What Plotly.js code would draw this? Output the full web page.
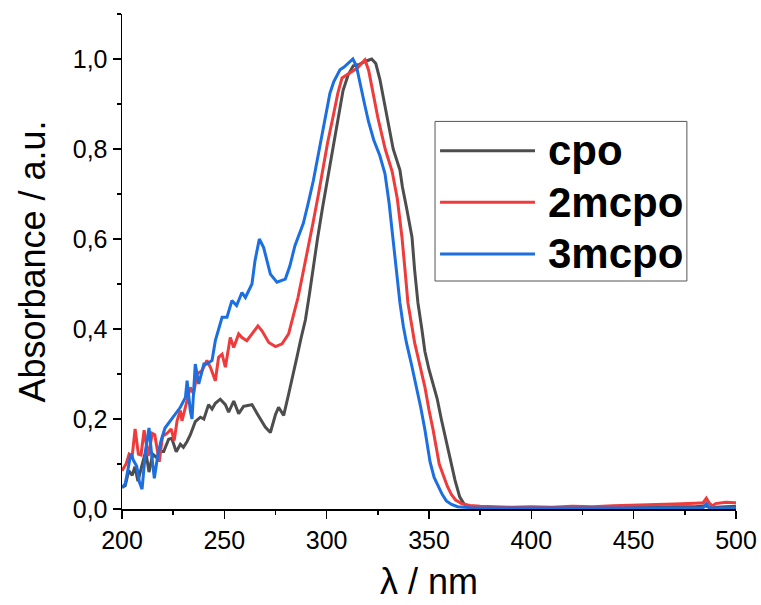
<!DOCTYPE html>
<html>
<head>
<meta charset="utf-8">
<script src="https://cdn.plot.ly/plotly-3.0.1.min.js"></script>
<style>html,body{margin:0;padding:0;background:#fff;}#chart{width:761px;height:605px;}</style>
</head>
<body>
<div id="chart"></div>
<script>
// ---- data ----
const seriesNames = ["cpo", "2mcpo", "3mcpo"];

const cpoX = [200,201.6,203.3,205,206.3,207.8,209.8,211.6,213.2,215,217,218.5,220.4,222.8,224.3,226.5,228.5,230,231.8,233.4,235.8,238.3,240,242.3,244,245.6,248,250.5,252.1,254.6,257,259.4,261.5,263.5,266.8,270,272.5,275,276.5,279,281.4,283.5,285.5,287.5,289.6,291.5,293,295.5,298,300.5,303,305.5,308,310.5,313,316,319,322,324,326,328,330,332.5,335.8,337,339,341.7,343,344.6,346.5,348,350,352,354,356,358,360,362.7,365,367,369,372,376,380,390,400,410,420,430,440,450,460,470,480,485,487,490,495,500];
const cpoY = [0.048,0.052,0.085,0.075,0.094,0.062,0.098,0.128,0.082,0.122,0.114,0.128,0.128,0.155,0.157,0.127,0.144,0.137,0.15,0.165,0.194,0.204,0.2,0.232,0.222,0.235,0.244,0.232,0.215,0.24,0.212,0.228,0.23,0.232,0.206,0.182,0.17,0.21,0.226,0.208,0.255,0.295,0.338,0.38,0.42,0.475,0.524,0.6,0.67,0.735,0.798,0.865,0.93,0.965,0.985,0.988,0.995,1.0,0.99,0.955,0.905,0.855,0.8,0.753,0.716,0.67,0.604,0.53,0.458,0.4,0.35,0.31,0.275,0.245,0.2,0.16,0.12,0.064,0.027,0.012,0.006,0.004,0.003,0.003,0.002,0.002,0.003,0.003,0.003,0.003,0.004,0.004,0.005,0.005,0.007,0.004,0.004,0.005,0.006];

const m2X = [200,202,203.5,205,206.4,208,209.3,210.8,212.8,214.8,216,218.2,219.8,222,224,225.5,226.9,228.5,229.3,231,233.4,235,236.6,239,241.5,243.2,245.6,247.2,248.9,250.5,252.9,254.6,257,258.6,261,263.5,266.4,268.4,271.7,275,278.2,281.4,283.7,286,288.4,291,293.3,296,298.2,300.5,303.1,305.5,307.5,310,312.5,315,317,318.7,320.5,322.5,325,328.6,332,334.5,336.8,338.3,339.7,341.5,343,345,348,350,352,355,357,359,361,363,366,370,375,380,390,400,410,420,430,440,450,460,470,480,484,485.5,487,488.5,490,495,500];
const m2Y = [0.085,0.1,0.122,0.118,0.178,0.122,0.12,0.175,0.118,0.168,0.165,0.105,0.162,0.168,0.178,0.152,0.196,0.219,0.196,0.226,0.27,0.256,0.3,0.307,0.33,0.315,0.285,0.337,0.344,0.315,0.381,0.359,0.389,0.381,0.374,0.389,0.407,0.396,0.37,0.361,0.367,0.389,0.427,0.47,0.524,0.58,0.635,0.7,0.76,0.815,0.871,0.925,0.958,0.966,0.972,0.98,0.99,0.998,0.975,0.93,0.87,0.8,0.75,0.69,0.604,0.53,0.458,0.41,0.369,0.33,0.271,0.22,0.176,0.1,0.075,0.05,0.032,0.02,0.012,0.008,0.006,0.005,0.004,0.005,0.004,0.006,0.005,0.007,0.008,0.01,0.011,0.013,0.014,0.024,0.013,0.007,0.012,0.015,0.014];

const m3X = [200,201.6,203,204.3,205.7,207.2,208.5,209.8,211.5,213.2,214.5,215.8,217.5,219,221,223.6,226,228.5,231,231.8,233.4,234.2,235.8,237.5,240,241.5,244,245.6,248.9,251.3,253.7,256,258.6,260.3,263.5,265,267.1,269.2,272.5,275.7,279.8,282,284.5,288.6,291,293.5,296,298.3,300,301.6,303.5,306.5,308.5,310.5,312.8,314.5,316.5,318.5,320.5,323,326,328.5,330.5,332.4,334,335.8,337.5,339,341.5,344,346,348,350.5,352.5,354.5,356.5,358.5,361,364,370,380,400,420,440,460,480,484,485.5,487,490,500];
const m3Y = [0.048,0.056,0.09,0.123,0.107,0.095,0.06,0.044,0.13,0.18,0.12,0.068,0.12,0.15,0.18,0.196,0.211,0.226,0.248,0.285,0.218,0.2,0.322,0.278,0.322,0.322,0.33,0.374,0.426,0.426,0.463,0.452,0.481,0.47,0.5,0.552,0.6,0.581,0.522,0.504,0.511,0.54,0.585,0.635,0.68,0.73,0.79,0.842,0.885,0.924,0.95,0.976,0.982,0.99,1.0,0.985,0.94,0.9,0.86,0.82,0.785,0.745,0.68,0.604,0.53,0.458,0.405,0.369,0.32,0.271,0.225,0.176,0.105,0.07,0.05,0.032,0.018,0.01,0.005,0.003,0.002,0.002,0.002,0.002,0.002,0.003,0.003,0.012,0.002,0.002,0.002];

const seriesColors = ["#4d4d4d", "#ef3b3b", "#1b6fe0"];

// ---- chart ----
const FONT = "Liberation Sans, Arial, Helvetica, sans-serif";
const xs = [cpoX, m2X, m3X], ys = [cpoY, m2Y, m3Y];
const traces = seriesNames.map((n, i) => ({
  x: xs[i], y: ys[i], name: n, type: "scatter", mode: "lines",
  line: {color: seriesColors[i], width: 3}, showlegend: false
}));

// manual legend (long line samples like the reference)
const lgX0 = 0.5098, lgX1 = 0.920, lgY0 = 0.4606, lgY1 = 0.783;
const lineX0 = 0.518, lineX1 = 0.6726, textX = 0.6906;
const rowY = [0.7238, 0.6196, 0.5152];
const shapes = [{type: "rect", xref: "paper", yref: "paper", x0: lgX0, x1: lgX1, y0: lgY0, y1: lgY1,
  line: {color: "#555555", width: 1}, fillcolor: "rgba(0,0,0,0)"}];
const annotations = [];
seriesNames.forEach((n, i) => {
  shapes.push({type: "line", xref: "paper", yref: "paper", x0: lineX0, x1: lineX1, y0: rowY[i], y1: rowY[i],
    line: {color: seriesColors[i], width: 3}});
  annotations.push({xref: "paper", yref: "paper", x: textX, y: rowY[i], xanchor: "left", yanchor: "middle",
    text: "<b>" + n + "</b>", showarrow: false, font: {family: FONT, size: 42, color: "#000"}});
});

const axisCommon = {
  showline: true, linecolor: "#000", linewidth: 1.5, mirror: false,
  ticks: "outside", ticklen: 8, tickwidth: 1.5, tickcolor: "#000",
  showgrid: false, zeroline: false,
  tickfont: {family: FONT, size: 25, color: "#000"}
};

const layout = {
  width: 761, height: 605,
  margin: {l: 122, r: 25, t: 14, b: 96},
  paper_bgcolor: "#fff", plot_bgcolor: "#fff",
  separators: ", ",
  font: {family: FONT, color: "#000"},
  xaxis: Object.assign({}, axisCommon, {
    range: [200, 500], tick0: 200, dtick: 50,
    minor: {dtick: 25, ticks: "outside", ticklen: 4, tickwidth: 1.5, tickcolor: "#000"},
    title: {text: "λ / nm", font: {family: FONT, size: 36, color: "#000"}, standoff: 16}
  }),
  yaxis: Object.assign({}, axisCommon, {
    range: [0, 1.1], tick0: 0, dtick: 0.2, tickformat: ".1f",
    minor: {dtick: 0.1, ticks: "outside", ticklen: 4, tickwidth: 1.5, tickcolor: "#000"},
    title: {text: "Absorbance / a.u.", font: {family: FONT, size: 36, color: "#000"}, standoff: 16}
  }),
  shapes: shapes,
  annotations: annotations,
  showlegend: false
};

Plotly.newPlot("chart", traces, layout, {displayModeBar: false, staticPlot: true});
</script>
</body>
</html>
